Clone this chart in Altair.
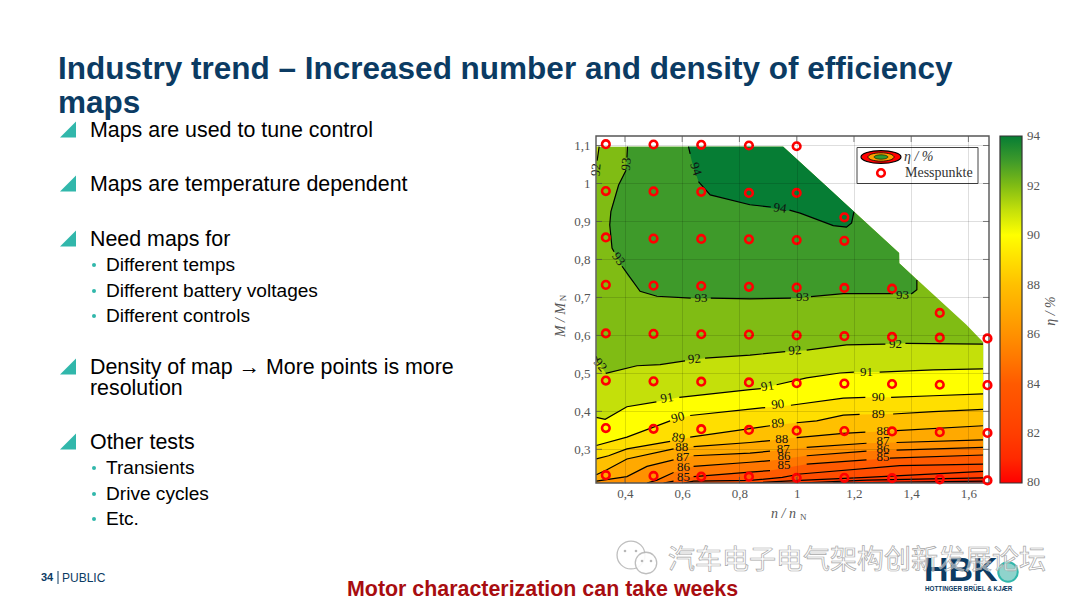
import altair as alt
import pandas as pd

# ---- slide text
title_lines = ["Industry trend – Increased number and density of efficiency", "maps"]
main_bullets = ["Maps are used to tune control", "Maps are temperature dependent", "Need maps for",
                "Density of map → More points is more", "Other tests"]
sub_bullets = ["Different temps", "Different battery voltages", "Different controls",
               "Transients", "Drive cycles", "Etc."]

# ---- axes
x_ticks = [0.4, 0.6, 0.8, 1.0, 1.2, 1.4, 1.6]
y_ticks = [0.3, 0.4, 0.5, 0.6, 0.7, 0.8, 0.9, 1.0, 1.1]
bar_ticks = [80, 82, 84, 86, 88, 90, 92, 94]

# ---- measuring points
point_x = [1/3, 1/2, 2/3, 5/6, 1,
           1/3, 1/2, 2/3, 5/6, 1, 7/6,
           1/3, 1/2, 2/3, 5/6, 1, 7/6,
           1/3, 1/2, 2/3, 5/6, 1, 7/6, 4/3, 3/2,
           1/3, 1/2, 2/3, 5/6, 1, 7/6, 4/3, 3/2, 5/3,
           1/3, 1/2, 2/3, 5/6, 1, 7/6, 4/3, 3/2, 5/3,
           1/3, 1/2, 2/3, 5/6, 1, 7/6, 4/3, 3/2, 5/3,
           1/3, 1/2, 2/3, 5/6, 1, 7/6, 4/3, 3/2, 5/3]
point_y = [1.1035, 1.1026, 1.1018, 1.10, 1.098,
           .98, .979, .978, .975, .975, .911,
           .858, .855, .854, .853, .851, .849,
           .733, .731, .730, .728, .726, .725, .723, .659,
           .605, .604, .603, .602, .600, .598, .596, .594, .592,
           .481, .479, .478, .476, .474, .473, .472, .470, .469,
           .356, .354, .353, .351, .349, .348, .347, .345, .343,
           .232, .230, .228, .228, .225, .225, .224, .221, .218]

# ---- map outline (upper edge), 92-93 band
edge_x = [.3, .953, 1.2, 1.358, 1.3585, 1.593, 1.652]
edge_y = [1.097, 1.097, .926, .817, .79, .628, .582]

# ---- regions bounded on both sides
r94_x = [.622, .634, .657, .698, .837, .953, 1.0, 1.012, 1.128, 1.174, 1.192, 1.2]
r94_top = [1.097, 1.097, 1.097, 1.097, 1.097, 1.097, 1.0645, 1.056, .976, .944, .9315, .926]
r94_bot = [1.097, 1.058, 1.005, .97, .944, .93, .926, .922, .889, .885, .896, .925]
r93_x = [.347, .351, .355, .378, .39, .405, .409, .453, .512, .64, .837, .953, 1.0, 1.058, 1.163, 1.2, 1.337, 1.358, 1.3585, 1.407, 1.42]
r93_top = [.891, .926, .94, .996, 1.015, 1.04, 1.097, 1.097, 1.097, 1.097, 1.097, 1.097, 1.0645, 1.0245, .9515, .926, .8315, .817, .79, .756, .746]
r93_bot = [.891, .865, .83, .80, .78, .762, .757, .716, .703, .698, .696, .697, .698, .703, .71, .71, .71, .709, .709, .709, .72]
r91_x = [.3, .303, .31]
r91_top = [1.097, 1.097, 1.097]
r91_bot = [1.04, 1.06, 1.097]

# ---- contour lines (None = gap for the inline label)
c94_x = [.622, .628, None, .657, .698, .837, .91, None, .975, 1.012, 1.128, 1.174, 1.192, 1.2]
c94_y = [1.097, 1.078, None, 1.005, .97, .944, .938, None, .93, .922, .889, .885, .896, .925]
c93_x = [.409, .407, None, .404, .378, .351, .347, .355, .362, None, .39, .453, .512, .63, None, .70, .837, .98, None, 1.05, 1.163, 1.337, None, 1.40, 1.42, 1.42]
c93_y = [1.097, 1.068, None, 1.035, .996, .926, .891, .83, .82, None, .782, .716, .703, .698, None, .698, .696, .698, None, .702, .71, .71, None, .709, .72, .746]
c92_x = [.31, .303, None, .3, .303, None, .333, .442, .523, .61, None, .68, .837, .96, None, 1.035, 1.174, 1.31, None, 1.38, 1.651]
c92_y = [1.097, 1.06, None, .545, .535, None, .50, .52, .523, .533, None, .54, .548, .557, None, .561, .575, .577, None, .579, .577]
c91_x = [.3, .331, .407, .51, None, .59, .837, .875, None, .93, 1.035, 1.151, 1.2, None, 1.29, 1.477, 1.651]
c91_y = [.384, .379, .412, .425, None, .437, .457, .46, None, .47, .488, .501, .503, None, .503, .509, .512]
c90_x = [.3, .407, .558, None, .628, .837, .89, None, .98, 1.163, 1.24, None, 1.33, 1.477, 1.651]
c90_y = [.31, .332, .375, None, .389, .406, .41, None, .416, .435, .437, None, .437, .441, .446]
c89_x = [.3, .343, .407, .558, None, .628, .907, None, 1.0, 1.07, 1.163, 1.22, None, 1.337, 1.477, 1.651]
c89_y = [.275, .283, .301, .321, None, .332, .362, None, .37, .375, .39, .392, None, .393, .399, .405]
c88_x = [.3, .337, .407, .57, None, .64, .837, .907, None, 1.0, 1.163, 1.24, None, 1.349, 1.651]
c88_y = [.233, .246, .2746, .301, None, .307, .318, .323, None, .331, .342, .345, None, .349, .362]
c87_x = [.3, .407, .477, .57, None, .64, .837, .907, None, 1.035, 1.244, None, 1.349, 1.651]
c87_y = [.216, .228, .255, .272, None, .283, .29, .295, None, .305, .316, None, .318, .325]
c86_x = [.477, .512, .57, None, .64, .837, .907, None, 1.035, 1.244, None, 1.349, 1.651]
c86_y = [.2113, .219, .239, None, .255, .266, .27, None, .283, .295, None, .298, .305]
c85_x = [.535, .57, None, .64, .837, .907, None, 1.035, 1.244, None, 1.326, 1.651]
c85_y = [.2113, .216, None, .228, .24, .244, None, .261, .272, None, .277, .285]
c84_x = [.605, .64, .837, .95, 1.012, 1.36, 1.651]
c84_y = [.2113, .216, .218, .226, .235, .257, .261]
c83_x = [.837, 1.012, 1.244, 1.651]
c83_y = [.2113, .218, .226, .242]
c82_x = [1.012, 1.244, 1.651]
c82_y = [.2113, .219, .225]
c81_x = [1.128, 1.651]
c81_y = [.2113, .216]

# ---- inline contour labels
lab_text = ["92", "93", "94", "94", "93", "93", "93", "93", "92", "92", "92", "92", "91", "91", "91",
            "90", "90", "90", "89", "89", "89", "88", "88", "88", "87", "87", "87", "86", "86", "86", "85", "85", "85"]
lab_x = [.299, .405, .648, .942, .378, .666, 1.02, 1.37, .314, .643, .994, 1.345, .547, .898, 1.244,
         .585, .934, 1.285, .587, .934, 1.285, .599, .948, 1.302, .602, .953, 1.302, .605, .956, 1.302, .605, .956, 1.302]
lab_y = [1.036, 1.051, 1.038, .935, .801, .698, .701, .707, .522, .538, .56, .577, .435, .466, .504,
         .384, .418, .437, .33, .368, .393, .305, .327, .349, .281, .301, .321, .253, .283, .301, .226, .26, .279]
lab_ang = [275, 275, 72, 8, 55, 0, 0, 0, 50, 355, 355, 0, 350, 350, 0,
           345, 352, 0, 10, 352, 0, 0, 0, 0, 0, 0, 0, 0, 0, 0, 0, 0, 0]

X_DOM = [0.299, 1.672]
Y_DOM = [0.2113, 1.125]
W, H = 393, 347
OX, OY = 596, 136
SERIF = "Liberation Serif"
SANS = "Liberation Sans"
NAVY = "#0b3b63"
TEAL = "#31b7ab"
GRAY = "#555555"

x_enc = alt.X("x:Q", scale=alt.Scale(domain=X_DOM, nice=False, zero=False), title=None,
              axis=alt.Axis(values=x_ticks, format=".1~f", labelExpr="replace(datum.label,'.',',')",
                            ticks=False, domain=False, grid=True, gridColor="#000000", gridOpacity=0.13,
                            gridWidth=1, labelFont=SERIF, labelFontSize=13, labelColor=GRAY,
                            labelPadding=4, zindex=1))
y_enc = alt.Y("y:Q", scale=alt.Scale(domain=Y_DOM, nice=False, zero=False), title=None,
              axis=alt.Axis(values=y_ticks, format=".1~f", labelExpr="replace(datum.label,'.',',')",
                            ticks=False, domain=False, grid=True, gridColor="#000000", gridOpacity=0.13,
                            gridWidth=1, labelFont=SERIF, labelFontSize=13, labelColor=GRAY,
                            labelPadding=6, zindex=1))
color_scale = alt.Scale(domain=[80, 84, 88, 90, 91, 92, 93, 94],
                        range=["#ff0000", "#ff5a00", "#ffc000", "#ffff00", "#c4e00a", "#80bc14", "#3e9a2a", "#067d34"])
bar_legend = alt.Legend(orient="none", legendX=404, legendY=0, gradientLength=H, gradientThickness=22,
                        gradientStrokeColor="#333333", gradientStrokeWidth=1.2, title=None, values=bar_ticks,
                        labelExpr="''", direction="vertical")


def band(level, xs, tops, bots=None):
    rows = [(a, b) for a, b in zip(xs, tops) if a is not None]
    df = pd.DataFrame({"x": [r[0] for r in rows], "y": [r[1] for r in rows]})
    df["y2"] = Y_DOM[0] if bots is None else bots
    df["level"] = level
    return alt.Chart(df).mark_area(opacity=1).encode(
        x=x_enc, y=y_enc, y2="y2:Q",
        color=alt.Color("level:Q", scale=color_scale, legend=bar_legend if level == 92 else None))


def contour(xs, ys):
    df = pd.DataFrame({"i": range(len(xs)), "x": xs, "y": ys})
    return alt.Chart(df).mark_line(color="#000000", strokeWidth=1.2, clip=True).encode(x=x_enc, y=y_enc, order="i:Q")


def text(s, px, py, size, color="#000000", weight="normal", align="left", font=SANS, angle=0, style="normal", **kw):
    return alt.Chart(pd.DataFrame({"t": [s]})).mark_text(
        fontSize=size, color=color, fontWeight=weight, align=align, baseline="middle", font=font,
        angle=angle, fontStyle=style, **kw).encode(text="t:N", x=alt.value(px - OX), y=alt.value(py - OY))


def symbol(shape, px, py, size, fill, stroke=None, sw=0, opacity=1):
    return alt.Chart(pd.DataFrame({"a": [1]})).mark_point(
        shape=shape, size=size, filled=True, fill=fill, stroke=stroke, strokeWidth=sw, opacity=opacity
    ).encode(x=alt.value(px - OX), y=alt.value(py - OY))


layers = []
# filled bands: painter's order, high levels first
layers.append(band(92, edge_x, edge_y))
layers.append(band(93, r93_x, r93_top, r93_bot))
layers.append(band(94, r94_x, r94_top, r94_bot))
layers.append(band(91, r91_x, r91_top, r91_bot))
left92 = [a for a in c92_x[6:] if a is not None]
left92y = [b for b in c92_y[6:] if b is not None]
layers.append(band(91, [.3, .303] + left92, [.545, .535] + left92y))
for lv, cx, cy in [(90, c91_x, c91_y), (89, c90_x, c90_y), (88, c89_x, c89_y), (87, c88_x, c88_y),
                   (86, c87_x, c87_y), (85, c86_x, c86_y), (84, c85_x, c85_y), (83, c84_x, c84_y),
                   (82, c83_x, c83_y), (81, c82_x, c82_y), (80, c81_x, c81_y)]:
    layers.append(band(lv, [a for a in cx if a is not None], [b for b in cy if b is not None]))

for cx, cy in [(c94_x, c94_y), (c93_x, c93_y), (c92_x, c92_y), (c91_x, c91_y), (c90_x, c90_y), (c89_x, c89_y),
               (c88_x, c88_y), (c87_x, c87_y), (c86_x, c86_y), (c85_x, c85_y), (c84_x, c84_y), (c83_x, c83_y),
               (c82_x, c82_y), (c81_x, c81_y)]:
    layers.append(contour(cx, cy))

# inline labels
lab_df = pd.DataFrame({"x": lab_x, "y": lab_y, "t": lab_text, "a": lab_ang})
layers.append(alt.Chart(lab_df).mark_text(font=SERIF, fontSize=13, color="#111111", baseline="middle", align="center").encode(
    x=x_enc, y=y_enc, text="t:N", angle=alt.Angle("a:Q", scale=None)))

# frame and inner ticks
tick = dict(color="#555555", thickness=1)
xt = pd.DataFrame({"x": x_ticks})
yt = pd.DataFrame({"y": y_ticks})
layers.append(alt.Chart(xt).mark_tick(size=6, orient="vertical", **tick).encode(x=x_enc, y=alt.value(H - 3)))
layers.append(alt.Chart(xt).mark_tick(size=6, orient="vertical", **tick).encode(x=x_enc, y=alt.value(3)))
layers.append(alt.Chart(yt).mark_tick(size=6, orient="horizontal", **tick).encode(y=y_enc, x=alt.value(3)))
layers.append(alt.Chart(yt).mark_tick(size=6, orient="horizontal", **tick).encode(y=y_enc, x=alt.value(W - 3)))
layers.append(alt.Chart(pd.DataFrame({"a": [1]})).mark_rect(fill=None, stroke="#555555", strokeWidth=1.4).encode(
    x=alt.value(0), x2=alt.value(W), y=alt.value(0), y2=alt.value(H)))

# colour bar inner ticks and labels
for v in bar_ticks:
    py = H * (94 - v) / 14
    layers.append(text(str(v), 1027, OY + py - (1 if v == 80 else 0), 13, GRAY, font=SERIF))
    if v in (80, 94):
        continue
    for bx in (1000 - OX + 2, 1022 - OX - 2):
        layers.append(alt.Chart(pd.DataFrame({"a": [1]})).mark_tick(size=4, orient="horizontal", color="#333333", thickness=1).encode(
            x=alt.value(bx), y=alt.value(py)))

# measuring points
layers.append(alt.Chart(pd.DataFrame({"x": point_x, "y": point_y})).mark_point(
    shape="circle", size=58, filled=False, color="#ff0000", strokeWidth=2.6, opacity=1, clip=False).encode(x=x_enc, y=y_enc))

# map legend
layers.append(alt.Chart(pd.DataFrame({"a": [1]})).mark_rect(fill="#ffffff", stroke="#444444", strokeWidth=1).encode(
    x=alt.value(857 - OX), x2=alt.value(978 - OX), y=alt.value(147.5 - OY), y2=alt.value(183.5 - OY)))
ELL = "M-1,0 A1,0.32 0 1,1 1,0 A1,0.32 0 1,1 -1,0 Z"
layers.append(symbol(ELL, 881, 157, 1600, "#ff0000", "#000000", 1.2))
layers.append(symbol(ELL, 881, 157, 680, "#ffa000", "#000000", 0.8))
layers.append(symbol(ELL, 881, 157, 190, "#2f9a30", "#000000", 0.6))
layers.append(text("η / %", 904, 157, 14, "#333333", font=SERIF, style="italic"))
layers.append(alt.Chart(pd.DataFrame({"a": [1]})).mark_point(
    shape="circle", size=58, filled=False, color="#ff0000", strokeWidth=2.6, opacity=1).encode(
    x=alt.value(881 - OX), y=alt.value(173 - OY)))
layers.append(text("Messpunkte", 905, 173, 14, "#333333", font=SERIF))

# axis titles
layers.append(text("n / n", 771, 514, 14, GRAY, font=SERIF, style="italic"))
layers.append(text("N", 800, 517, 9, GRAY, font=SERIF))
layers.append(text("M / M", 561, 320, 14, GRAY, font=SERIF, style="italic", angle=270, align="center"))
layers.append(text("N", 563, 298, 9, GRAY, font=SERIF, angle=270, align="center"))
layers.append(text("η / %", 1051, 311, 14, GRAY, font=SERIF, style="italic", angle=270, align="center"))

# slide text
layers.append(text(title_lines[0], 58, 69.5, 31.5, NAVY, "bold"))
layers.append(text(title_lines[1], 58, 103.5, 31.5, NAVY, "bold"))
TRI = "M1,-1 L1,1 L-1,1 Z"
for s, py in zip(main_bullets, [130, 184, 239, 367, 442]):
    layers.append(symbol(TRI, 68, py - 0.5, 256, TEAL))
    layers.append(text(s, 90, py + 0.5, 21.4))
layers.append(text("resolution", 90, 388.5, 21.4))
for s, py in zip(sub_bullets, [265, 291, 316, 468, 494, 519]):
    layers.append(symbol("circle", 94, py, 16, TEAL))
    layers.append(text(s, 106, py, 19.1))

# footer
layers.append(text("34", 41, 578, 11, NAVY, "bold"))
layers.append(alt.Chart(pd.DataFrame({"a": [1]})).mark_rule(color=NAVY, strokeWidth=1).encode(
    x=alt.value(58 - OX), y=alt.value(571 - OY), y2=alt.value(584 - OY)))
layers.append(text("PUBLIC", 62, 578, 12, NAVY))
layers.append(text("Motor characterization can take weeks", 347, 590.2, 21.4, "#a80d10", "bold"))

# watermark and logo
layers.append(text("HBK", 924, 571, 34, "#0b3b63", "bold"))
layers.append(symbol("circle", 1008, 572, 380, "#8fd3cc", TEAL, 2))
layers.append(text("HOTTINGER BRÜEL & KJÆR", 925, 589, 6.3, "#0b3b63", "bold"))
layers.append(symbol("circle", 631, 555, 780, "#ffffff", "#b8b8b8", 1.3, 0.9))
layers.append(symbol("circle", 646, 563, 460, "#ffffff", "#b8b8b8", 1.3, 0.9))
for ex, ey in [(625, 551), (636, 551), (642, 561), (651, 561)]:
    layers.append(symbol("circle", ex, ey, 7, "#b8b8b8"))
layers.append(text("汽车电子电气架构创新发展论坛", 668, 561, 27, "#ffffff", font="Noto Sans CJK SC",
                   stroke="#a8a8a8", strokeWidth=0.7, fillOpacity=0.5))

chart = alt.layer(*layers).resolve_scale(color="shared").properties(
    width=W, height=H, background="#ffffff",
    autosize=alt.AutoSizeParams(type="none"),
    padding={"left": OX - 8, "top": OY - 8, "right": 1064 - (OX - 8) - W, "bottom": 592 - (OY - 8) - H},
).configure_view(stroke=None)

chart.save("out.html", embed_options={"renderer": "svg", "actions": False})
